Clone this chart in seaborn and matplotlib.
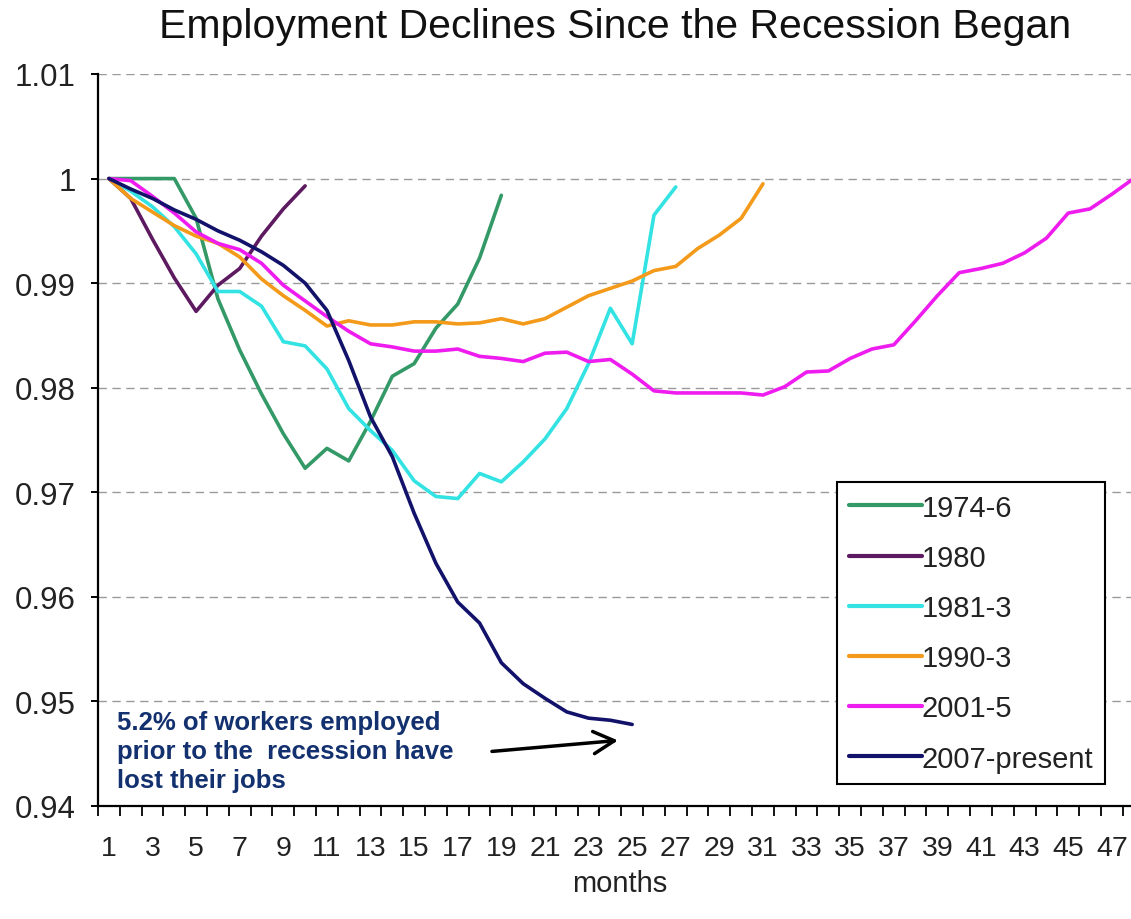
import numpy as np
import pandas as pd
import matplotlib
matplotlib.use("Agg")
import matplotlib.pyplot as plt
import seaborn as sns

# ── Data (ratio of employment to the level at recession start) ────────────────
SERIES = ["1974-6", "1980", "1981-3", "1990-3", "2001-5", "2007-present"]

emp_1974 = [1.0, 1.0, 1.0, 1.0, 0.9962, 0.9885, 0.9836, 0.9794, 0.9756, 0.9723,
            0.9742, 0.9730, 0.9768, 0.9811, 0.9823, 0.9857, 0.9880, 0.9924, 0.9984]

emp_1980 = [1.0, 0.9981, 0.9942, 0.9905, 0.9873, 0.9898, 0.9914, 0.9945, 0.9971, 0.9993]

emp_1981 = [1.0, 0.9988, 0.9973, 0.9954, 0.9928, 0.9892, 0.9892, 0.9878, 0.9844, 0.9840,
            0.9818, 0.9780, 0.9759, 0.9740, 0.9711, 0.9696, 0.9694, 0.9718, 0.9710, 0.9729,
            0.9751, 0.9780, 0.9823, 0.9876, 0.9842, 0.9965, 0.9992]

emp_1990 = [1.0, 0.9981, 0.9968, 0.9955, 0.9945, 0.9938, 0.9925, 0.9904, 0.9888, 0.9874,
            0.9859, 0.9864, 0.9860, 0.9860, 0.9863, 0.9863, 0.9861, 0.9862, 0.9866, 0.9861,
            0.9866, 0.9877, 0.9888, 0.9895, 0.9902, 0.9912, 0.9916, 0.9933, 0.9946, 0.9962,
            0.9995]

emp_2001 = [1.0, 0.9998, 0.9983, 0.9967, 0.9949, 0.9938, 0.9932, 0.9919, 0.9898, 0.9883,
            0.9868, 0.9854, 0.9842, 0.9839, 0.9835, 0.9835, 0.9837, 0.9830, 0.9828, 0.9825,
            0.9833, 0.9834, 0.9825, 0.9827, 0.9813, 0.9797, 0.9795, 0.9795, 0.9795, 0.9795,
            0.9793, 0.9801, 0.9815, 0.9816, 0.9828, 0.9837, 0.9841, 0.9864, 0.9888, 0.9910,
            0.9914, 0.9919, 0.9929, 0.9943, 0.9967, 0.9971, 0.9985, 1.0]

emp_2007 = [1.0, 0.9990, 0.9981, 0.9970, 0.9961, 0.9950, 0.9941, 0.9930, 0.9917, 0.9900,
            0.9874, 0.9826, 0.9772, 0.9734, 0.9680, 0.9632, 0.9595, 0.9575, 0.9537, 0.9517,
            0.9503, 0.9490, 0.9484, 0.9482, 0.9478]

Y_TICKS = [0.94, 0.95, 0.96, 0.97, 0.98, 0.99, 1.0, 1.01]
Y_TICK_LABELS = ["0.94", "0.95", "0.96", "0.97", "0.98", "0.99", "1", "1.01"]
X_TICKS = list(range(1, 48, 2))

NOTE = "5.2% of workers employed\nprior to the  recession have\nlost their jobs"

COLORS = {
    "1974-6": "#339966",
    "1980": "#5E1A60",
    "1981-3": "#33E3E3",
    "1990-3": "#F49A1A",
    "2001-5": "#EE1CEE",
    "2007-present": "#12126B",
}

# ── Long table for seaborn ────────────────────────────────────────────────────
frames = []
for name, vals in zip(SERIES, [emp_1974, emp_1980, emp_1981, emp_1990, emp_2001, emp_2007]):
    frames.append(pd.DataFrame({"month": np.arange(1, len(vals) + 1),
                                "ratio": vals, "series": name}))
df = pd.concat(frames, ignore_index=True)

# ── Figure ────────────────────────────────────────────────────────────────────
sns.set_style("white")
plt.rcParams["font.family"] = ["Liberation Sans", "DejaVu Sans"]

W, H = 1131, 920
fig = plt.figure(figsize=(W / 100, H / 100), dpi=100)
ax = fig.add_axes([98 / W, 113 / H, 1 - 98 / W, 732 / H])

sns.lineplot(data=df, x="month", y="ratio", hue="series", hue_order=SERIES,
             palette=COLORS, linewidth=2.6, sort=False, estimator=None, ax=ax)

ax.set_xlim(0.5, 47.88)
ax.set_ylim(0.94, 1.01)

# dashed horizontal gridlines
ax.set_axisbelow(True)
ax.yaxis.grid(True, color="#9a9a9a", linewidth=1.0, linestyle=(0, (6, 4)))
ax.xaxis.grid(False)

for side in ["top", "right"]:
    ax.spines[side].set_visible(False)
for side in ["left", "bottom"]:
    ax.spines[side].set_color("black")
    ax.spines[side].set_linewidth(1.6)

ax.set_yticks(Y_TICKS)
ax.set_yticklabels(Y_TICK_LABELS, fontsize=22.5, color="#222222")
ax.tick_params(axis="y", direction="out", length=5, width=1.4, color="black",
               pad=11, left=True)

# category axis: tick marks between months, labels on odd months
ax.set_xticks(X_TICKS)
ax.set_xticklabels([str(m) for m in X_TICKS], fontsize=20.5, color="#222222")
ax.set_xticks(np.arange(0.5, 48, 1.0), minor=True)
ax.tick_params(axis="x", which="major", length=0, pad=21)
ax.tick_params(axis="x", which="minor", direction="out", length=7, width=1.3,
               color="black", bottom=True)

ax.set_xlabel("")
ax.set_ylabel("")
fig.text(620 / W, 1 - 884 / H, "months", ha="center", va="center",
         fontsize=21, color="#222222")

fig.text(615 / W, 1 - 27 / H, "Employment Declines Since the Recession Began",
         ha="center", va="center", fontsize=29.5, color="#111111")

# legend
handles, labels = ax.get_legend_handles_labels()
leg = ax.legend(handles, labels, loc="upper right",
                bbox_to_anchor=(1105 / W, 1 - 483 / H),
                bbox_transform=fig.transFigure, borderaxespad=0,
                fontsize=21, frameon=True, fancybox=False, shadow=False,
                handlelength=2.5, handletextpad=0.0, labelspacing=0.76,
                borderpad=0.4)
leg.get_frame().set_edgecolor("black")
leg.get_frame().set_linewidth(1.5)
leg.get_frame().set_facecolor("white")
leg.get_frame().set_alpha(1)
for t in leg.get_texts():
    t.set_color("#222222")
for h in leg.get_lines():
    h.set_linewidth(3)

# annotation
ax.text(1.37, 0.94525, NOTE, ha="left", va="center", fontsize=18.5,
        fontweight="bold", color="#13306F", linespacing=1.25)
ax.annotate("", xy=(24.35, 0.94627), xytext=(18.57, 0.94522),
            arrowprops=dict(arrowstyle="->,head_length=0.75,head_width=0.4",
                            color="black", linewidth=2.5, mutation_scale=20,
                            shrinkA=0, shrinkB=0))

fig.savefig("out.png", dpi=100)
